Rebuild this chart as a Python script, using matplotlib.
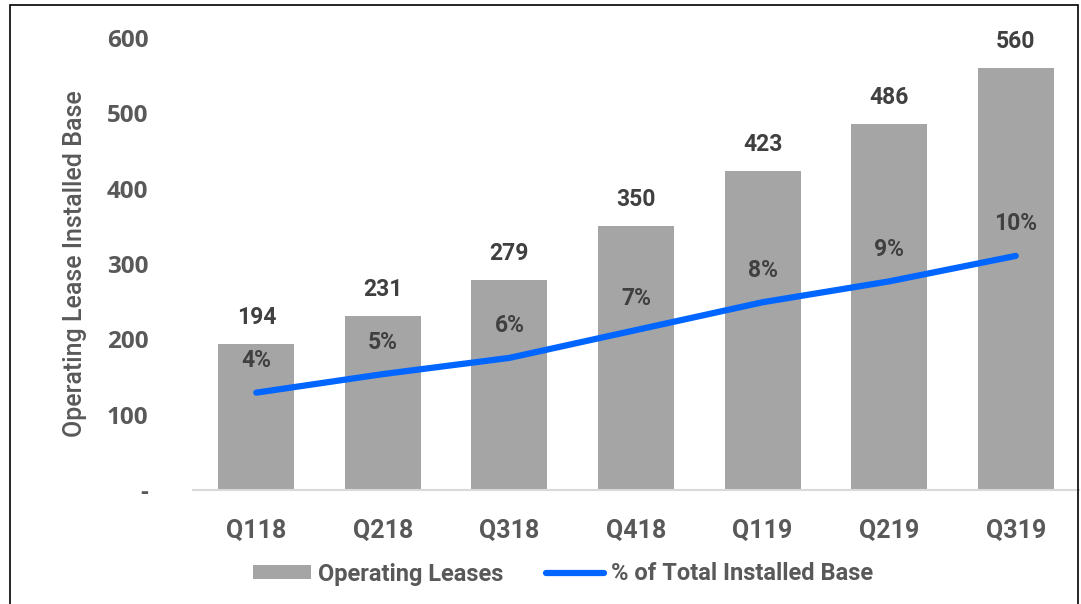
import matplotlib
matplotlib.use("Agg")
import matplotlib.pyplot as plt
from matplotlib.patches import Rectangle

categories = ["Q118", "Q218", "Q318", "Q418", "Q119", "Q219", "Q319"]
operating_leases = [194, 231, 279, 350, 423, 486, 560]
pct_installed = [4.2, 5.0, 5.7, 6.9, 8.1, 9.0, 10.1]
yticks = [0, 100, 200, 300, 400, 500, 600]
ytick_labels = ["-", "100", "200", "300", "400", "500", "600"]

BAR = "#A5A5A5"
LINE = "#0066FF"
DARK = "#404040"
GRAY = "#595959"
FONT = "Roboto"

fig = plt.figure(figsize=(10.81, 6.04), dpi=100)
ax = fig.add_axes([193/1081, 1-490/604, (1079-193)/1081, (490-38)/604])
x = list(range(len(categories)))
bars = ax.bar(x, operating_leases, width=0.6, color=BAR, label="Operating Leases", zorder=2)
ax.set_xlim(-0.5, len(categories)-0.5)
ax.set_ylim(0, 600)
ax.set_yticks(yticks)
ax.set_yticklabels(ytick_labels, fontsize=17.5, fontweight="bold", color=GRAY, family="Open Sans")
ax.set_xticks(x)
ax.set_xticklabels(categories, fontsize=18, fontweight="bold", color=GRAY, family=FONT)
ax.tick_params(axis="y", length=0, pad=32)
ax.tick_params(axis="x", length=0, pad=21)
for s in ["top", "right", "left"]:
    ax.spines[s].set_visible(False)
ax.spines["bottom"].set_color("#D9D9D9")
ax.spines["bottom"].set_linewidth(1.5)
ax.set_ylabel("Operating Lease Installed Base", fontsize=18, color=GRAY, family=FONT,
              fontweight="medium", labelpad=14)

for xi, v in zip(x, operating_leases):
    ax.annotate(str(v), (xi, v), xytext=(0, 19), textcoords="offset points",
                ha="center", va="center", fontsize=16.5, fontweight="bold", color=DARK, family=FONT)

ax2 = ax.twinx()
ax2.set_ylim(0, 19.5)
ax2.axis("off")
ln, = ax2.plot(x, pct_installed, color=LINE, lw=4.5, solid_capstyle="round",
               solid_joinstyle="round", label="% of Total Installed Base", zorder=3)
for xi, p in zip(x, pct_installed):
    ax2.annotate(f"{round(p):d}%", (xi, p), xytext=(0, 23), textcoords="offset points",
                 ha="center", va="center", fontsize=16.5, fontweight="bold", color=DARK, family=FONT)

leg = fig.legend([bars, ln], ["Operating Leases", "% of Total Installed Base"],
                 loc="center", bbox_to_anchor=(563/1081, 1-574/604), ncol=2, frameon=False,
                 prop={"family": FONT, "weight": "bold", "size": 17},
                 handlelength=2.45, handleheight=0.55, columnspacing=1.8, handletextpad=0.3)
for t in leg.get_texts():
    t.set_color(GRAY)

fig.patches.append(Rectangle((10/1081, -0.01), (1078-10)/1081, 1-5/604+0.01,
                             transform=fig.transFigure, fill=False, edgecolor="black", lw=1.2))

fig.savefig("out.png", dpi=100)
